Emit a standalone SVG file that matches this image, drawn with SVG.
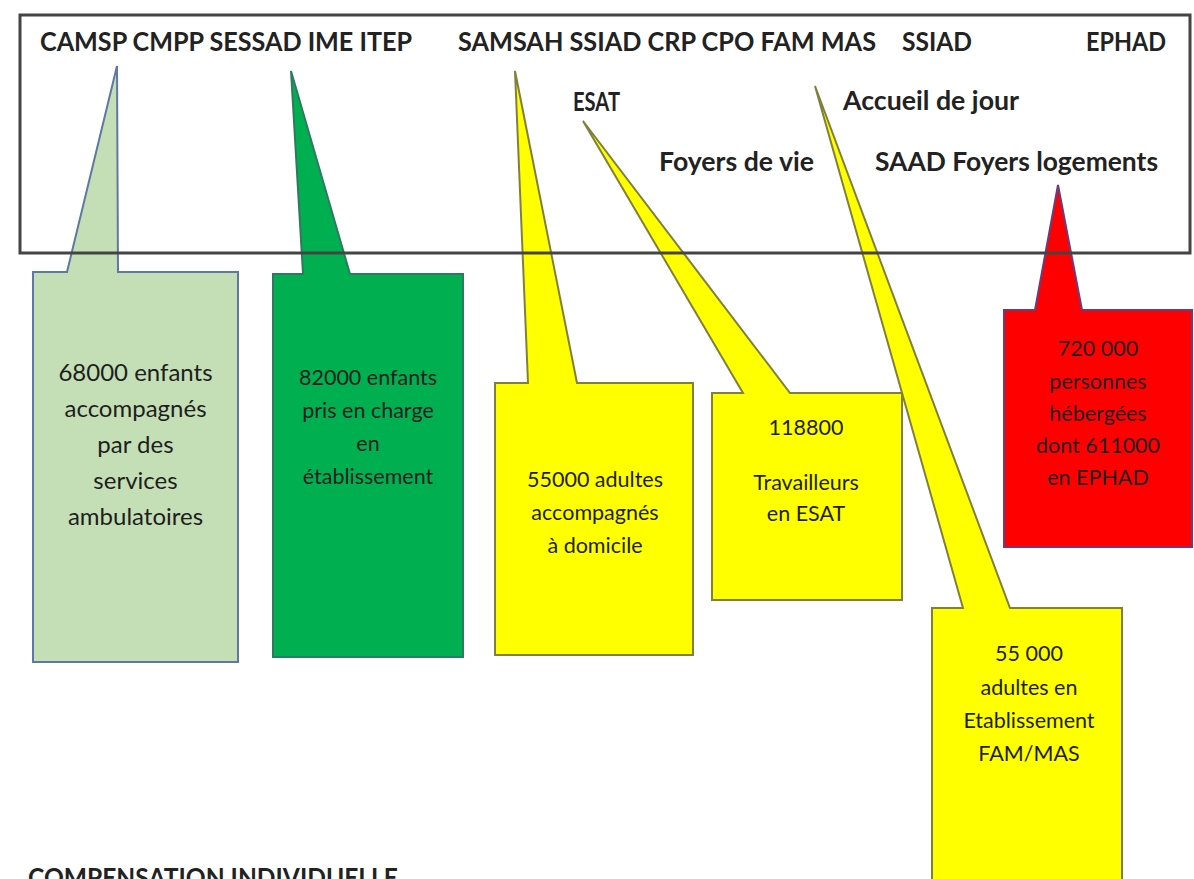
<svg xmlns="http://www.w3.org/2000/svg" width="1194" height="879" viewBox="0 0 1194 879">
  <style>
    .label { font-family: Lato, "Open Sans", "Liberation Sans", sans-serif; font-weight: bold; font-size: 26px; fill: #222; }
    .body { font-family: Lato, "Open Sans", "Liberation Sans", sans-serif; font-size: 21.5px; fill: #1e1e1e; text-anchor: middle; }
    .big { font-size: 24px; }
    .frame { fill: none; stroke: #444; stroke-width: 3; }
    .callout { stroke-width: 2; stroke-linejoin: miter; }
    .lightgreen { fill: #c4dfb5; stroke: #5f78a6; }
    .green { fill: #00b050; stroke: #2e7a60; }
    .yellow { fill: #ffff00; stroke: #80803c; }
    .red { fill: #ff0000; stroke: #6a3c7c; }
  </style>
  <rect width="1194" height="879" fill="#ffffff"/>

  <!-- callouts: box with a wedge pointing up to its structure label -->
  <g id="enfants-ambulatoires">
    <path class="callout lightgreen" d="M33,272 L67,272 L117,66 L118,272 L238,272 L238,662 L33,662 Z"/>
    <text class="body big" x="135.5" y="381">68000 enfants</text>
    <text class="body big" x="135.5" y="417">accompagnés</text>
    <text class="body big" x="135.5" y="453">par des</text>
    <text class="body big" x="135.5" y="489">services</text>
    <text class="body big" x="135.5" y="525">ambulatoires</text>
  </g>

  <g id="enfants-etablissement">
    <path class="callout green" d="M273,274 L303,274 L291,71 L350,274 L463,274 L463,657 L273,657 Z"/>
    <text class="body" x="368" y="385">82000 enfants</text>
    <text class="body" x="368" y="418">pris en charge</text>
    <text class="body" x="368" y="451">en</text>
    <text class="body" x="368" y="484">établissement</text>
  </g>

  <g id="adultes-domicile">
    <path class="callout yellow" d="M495,383 L528,383 L515,71 L577,383 L693,383 L693,655 L495,655 Z"/>
    <text class="body" x="595" y="487">55000 adultes</text>
    <text class="body" x="595" y="520">accompagnés</text>
    <text class="body" x="595" y="553">à domicile</text>
  </g>

  <g id="travailleurs-esat">
    <path class="callout yellow" d="M712,393 L743,393 L583,121 L790,393 L902,393 L902,600 L712,600 Z"/>
    <text class="body" x="806" y="435">118800</text>
    <text class="body" x="806" y="490">Travailleurs</text>
    <text class="body" x="806" y="521">en ESAT</text>
  </g>

  <g id="adultes-fam-mas">
    <path class="callout yellow" d="M932,608 L963,608 L815,86 L1010,608 L1122,608 L1122,890 L932,890 Z"/>
    <text class="body" x="1029" y="661">55 000</text>
    <text class="body" x="1029" y="695">adultes en</text>
    <text class="body" x="1029" y="728">Etablissement</text>
    <text class="body" x="1029" y="761">FAM/MAS</text>
  </g>

  <g id="personnes-ephad">
    <path class="callout red" d="M1004,310 L1035,310 L1058,185 L1082,310 L1192,310 L1192,547 L1004,547 Z"/>
    <text class="body" x="1098" y="356">720 000</text>
    <text class="body" x="1098" y="389">personnes</text>
    <text class="body" x="1098" y="421">hébergées</text>
    <text class="body" x="1098" y="453">dont 611000</text>
    <text class="body" x="1098" y="485">en EPHAD</text>
  </g>

  <!-- structures panel, drawn over the wedge tails -->
  <g id="structures">
    <rect class="frame" x="20" y="15" width="1170" height="238"/>
    <text class="label" x="40" y="51" textLength="372" lengthAdjust="spacingAndGlyphs">CAMSP CMPP SESSAD IME ITEP</text>
    <text class="label" x="458" y="51" textLength="418" lengthAdjust="spacingAndGlyphs">SAMSAH SSIAD CRP CPO FAM MAS</text>
    <text class="label" x="902" y="51" textLength="70" lengthAdjust="spacingAndGlyphs">SSIAD</text>
    <text class="label" x="1086" y="51" textLength="80" lengthAdjust="spacingAndGlyphs">EPHAD</text>
    <text class="label" x="573" y="111" textLength="47" lengthAdjust="spacingAndGlyphs">ESAT</text>
    <text class="label" x="843" y="110" textLength="176" lengthAdjust="spacingAndGlyphs">Accueil de jour</text>
    <text class="label" x="659" y="171" textLength="155" lengthAdjust="spacingAndGlyphs">Foyers de vie</text>
    <text class="label" x="875" y="171" textLength="283" lengthAdjust="spacingAndGlyphs">SAAD Foyers logements</text>
  </g>

  <!-- heading of the next section, running off the bottom edge -->
  <g id="compensation">
    <text class="label" x="28" y="887" textLength="370" lengthAdjust="spacingAndGlyphs">COMPENSATION INDIVIDUELLE</text>
  </g>
</svg>
